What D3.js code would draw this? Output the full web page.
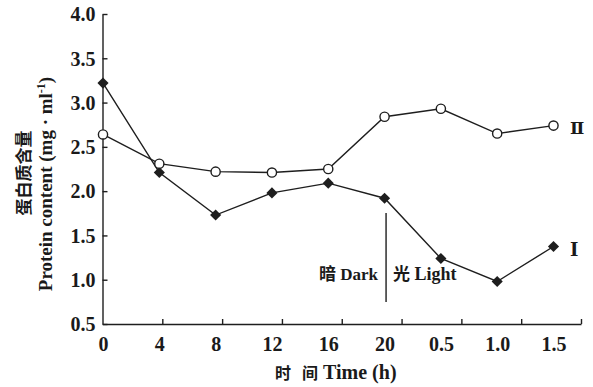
<!DOCTYPE html>
<html>
<head>
<meta charset="utf-8">
<script src="https://cdn.jsdelivr.net/npm/d3@7"></script>
<style>
  html, body { margin: 0; padding: 0; background: #fff; }
  svg { display: block; }
  text { fill: #1a1a1a; }
</style>
</head>
<body>
<svg id="chart" width="593" height="387"></svg>
<script>
// Sampling times: 0–20 h in darkness, then 0.5–1.5 h after light
const categories = ["0", "4", "8", "12", "16", "20", "0.5", "1.0", "1.5"];
// Protein content (mg·ml⁻¹)
const seriesI  = [3.22, 2.21, 1.73, 1.98, 2.09, 1.92, 1.24, 0.98, 1.375];
const seriesII = [2.64, 2.31, 2.22, 2.21, 2.25, 2.84, 2.93, 2.65, 2.74];
const yTicks = [0.5, 1.0, 1.5, 2.0, 2.5, 3.0, 3.5, 4.0];

const svg = d3.select("#chart");
const serif = "'Liberation Serif', 'Times New Roman', serif";
const cjk = "'Noto Sans CJK SC', sans-serif";
const ink = "#1e1e1e";

const x0 = 102.5, x1 = 581, yTop = 14, yBot = 324;

const x = d3.scalePoint().domain(categories).range([103, 553.5]);
const xTickScale = d3.scaleLinear().domain([0, 8]).range([x0, x1]);
const y = d3.scaleLinear().domain([0.5, 4.0]).range([yBot, yTop]);

// Y axis with inward ticks
const yAxis = svg.append("g")
  .attr("transform", `translate(${x0},0)`)
  .call(d3.axisLeft(y).tickValues(yTicks).tickFormat(d3.format(".1f"))
    .tickSizeInner(-5).tickSizeOuter(0).tickPadding(7));
yAxis.selectAll("text").attr("font-family", serif).attr("font-weight", "bold")
  .attr("font-size", 20).attr("dy", "0.34em");

// X axis line with inward tick marks
svg.append("g")
  .attr("transform", `translate(0,${yBot})`)
  .call(d3.axisBottom(xTickScale).tickValues(d3.range(1, 9))
    .tickFormat("").tickSizeInner(-5).tickSizeOuter(0));

// X category labels
const xLabelAxis = svg.append("g")
  .attr("transform", `translate(0,${yBot})`)
  .call(d3.axisBottom(x).tickSize(0).tickPadding(13));
xLabelAxis.select(".domain").remove();
xLabelAxis.selectAll("text").attr("font-family", serif).attr("font-weight", "bold")
  .attr("font-size", 20);

svg.selectAll(".domain, .tick line").attr("stroke", ink).attr("stroke-width", 1.4);

// Series lines
const line = d3.line().x((d, i) => x(categories[i])).y(d => y(d));
[seriesI, seriesII].forEach(s => {
  svg.append("path").datum(s).attr("d", line)
    .attr("fill", "none").attr("stroke", ink).attr("stroke-width", 1.4);
});

// Series I markers: filled diamonds
svg.append("g").selectAll("path").data(seriesI).join("path")
  .attr("transform", (d, i) => `translate(${x(categories[i])},${y(d)}) rotate(45)`)
  .attr("d", d3.symbol(d3.symbolSquare, 62))
  .attr("fill", ink);

// Series II markers: open circles
svg.append("g").selectAll("circle").data(seriesII).join("circle")
  .attr("cx", (d, i) => x(categories[i])).attr("cy", d => y(d)).attr("r", 4.6)
  .attr("fill", "#fff").attr("stroke", ink).attr("stroke-width", 1.4);

// Series labels
svg.append("text").attr("x", 570).attr("y", y(seriesII[8]) + 8)
  .attr("font-family", "'DejaVu Serif', serif").attr("font-weight", "bold").attr("font-size", 17)
  .text("Ⅱ");
svg.append("text").attr("x", 570).attr("y", y(seriesI[8]) + 9)
  .attr("font-family", "'DejaVu Serif', serif").attr("font-weight", "bold").attr("font-size", 18)
  .text("Ⅰ");

// Dark / light divider at the end of the 20 h dark period
const divX = x("20") + 1.5;
svg.append("line").attr("x1", divX).attr("x2", divX).attr("y1", 213).attr("y2", 302)
  .attr("stroke", ink).attr("stroke-width", 1.4);

const dark = svg.append("text").attr("x", divX - 8).attr("y", 280).attr("text-anchor", "end")
  .attr("font-weight", "bold").attr("font-size", 17);
dark.append("tspan").attr("font-family", cjk).text("暗");
dark.append("tspan").attr("font-family", serif).text(" Dark");

const light = svg.append("text").attr("x", divX + 7).attr("y", 280)
  .attr("font-weight", "bold").attr("font-size", 17);
light.append("tspan").attr("font-family", cjk).text("光");
light.append("tspan").attr("font-family", serif).attr("font-size", 18).text(" Light");

// X axis title
const xt = svg.append("text").attr("x", 275).attr("y", 379)
  .attr("font-weight", "bold").attr("font-size", 17);
xt.append("tspan").attr("font-family", cjk).attr("font-size", 16).text("时");
xt.append("tspan").attr("font-family", cjk).attr("font-size", 16).attr("dx", 11).text("间");
xt.append("tspan").attr("font-family", serif).attr("font-size", 20).text(" Time (h)");

// Y axis titles
svg.append("text").attr("transform", "translate(30,173) rotate(-90)")
  .attr("text-anchor", "middle").attr("font-family", cjk).attr("font-weight", "bold")
  .attr("font-size", 17).text("蛋白质含量");
const yt = svg.append("text").attr("transform", "translate(52,184) rotate(-90)")
  .attr("text-anchor", "middle").attr("font-family", serif).attr("font-weight", "bold")
  .attr("font-size", 19);
yt.append("tspan").text("Protein content (mg · ml");
yt.append("tspan").attr("font-size", 12).attr("baseline-shift", "super").text("-1");
yt.append("tspan").text(")");
</script>
</body>
</html>
